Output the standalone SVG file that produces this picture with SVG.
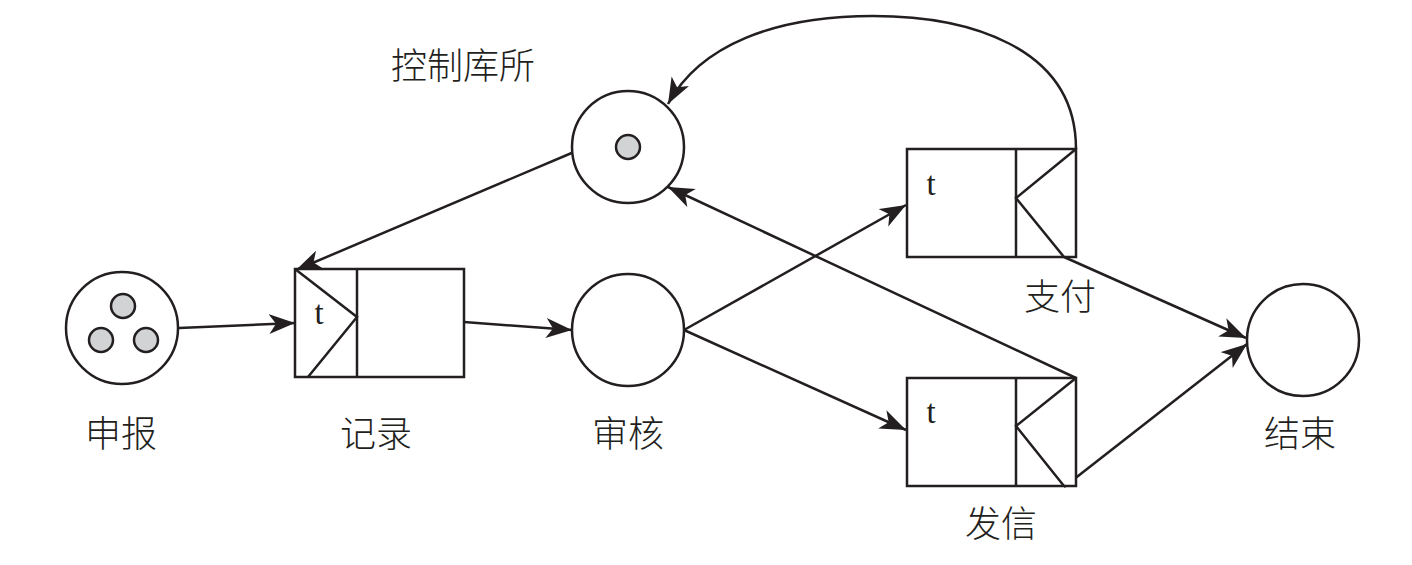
<svg xmlns="http://www.w3.org/2000/svg" width="1412" height="565" viewBox="0 0 1412 565">
<style>
.ln{fill:none;stroke:#231f20;stroke-width:2.5}
.pl{fill:#fff;stroke:#231f20;stroke-width:2.5}
.tk{fill:#d1d3d4;stroke:#231f20;stroke-width:2.5}
.lb{font-family:"Noto Sans CJK SC","Noto Sans",sans-serif;font-size:36px;fill:#231f20;text-anchor:middle;font-weight:300}
.t{font-family:"Liberation Serif",serif;font-size:33px;fill:#231f20;text-anchor:middle}
</style>
<defs>
<marker id="ah" markerUnits="userSpaceOnUse" markerWidth="28" markerHeight="22" refX="26" refY="10" orient="auto">
<path d="M0,0 L26,10 L0,20 L7,10 z" fill="#231f20"/>
</marker>
</defs>
<g id="connectors">
<line class="ln" x1="179" y1="328" x2="295" y2="323" marker-end="url(#ah)"/>
<line class="ln" x1="464" y1="322" x2="572" y2="330" marker-end="url(#ah)"/>
<line class="ln" x1="574" y1="152" x2="296" y2="270" marker-end="url(#ah)"/>
<line class="ln" x1="684" y1="330" x2="906" y2="205" marker-end="url(#ah)"/>
<line class="ln" x1="684" y1="330" x2="906" y2="430" marker-end="url(#ah)"/>
<line class="ln" x1="1076" y1="378" x2="668" y2="187" marker-end="url(#ah)"/>
<line class="ln" x1="1064" y1="257" x2="1246" y2="338" marker-end="url(#ah)"/>
<line class="ln" x1="1064" y1="487" x2="1247" y2="344" marker-end="url(#ah)"/>
<path class="ln" d="M1076,149 C1076,45 965,16 873,16 C775,16 700,45 668,104" marker-end="url(#ah)"/>
</g>
<g id="shenbao">
<circle class="pl" cx="122" cy="328" r="56"/>
<circle class="tk" cx="123" cy="306" r="12"/>
<circle class="tk" cx="101" cy="340" r="12"/>
<circle class="tk" cx="146" cy="340" r="12"/>
<text class="lb" x="121" y="447">申报</text>
</g>
<g id="jilu">
<rect class="pl" x="295" y="269" width="169" height="108"/>
<line class="ln" x1="357" y1="269" x2="357" y2="377"/>
<polyline class="ln" points="295,269 357,317 308,377"/>
<text class="t" x="319" y="324">t</text>
<text class="lb" x="376" y="447">记录</text>
</g>
<g id="shenhe">
<circle class="pl" cx="628" cy="330" r="56"/>
<text class="lb" x="628" y="447">审核</text>
</g>
<g id="kongzhi">
<circle class="pl" cx="628" cy="147" r="56"/>
<circle class="tk" cx="628" cy="147" r="12"/>
<text class="lb" x="463" y="79">控制库所</text>
</g>
<g id="zhifu">
<rect class="pl" x="907" y="149" width="169" height="108"/>
<line class="ln" x1="1016" y1="149" x2="1016" y2="257"/>
<polyline class="ln" points="1076,149 1016,198 1064,257"/>
<text class="t" x="931" y="195">t</text>
<text class="lb" x="1060" y="310">支付</text>
</g>
<g id="faxin">
<rect class="pl" x="907" y="378" width="169" height="108"/>
<line class="ln" x1="1016" y1="378" x2="1016" y2="486"/>
<polyline class="ln" points="1076,378 1016,426 1064,486"/>
<text class="t" x="931" y="423">t</text>
<text class="lb" x="1001" y="537">发信</text>
</g>
<g id="jieshu">
<circle class="pl" cx="1303" cy="340" r="56"/>
<text class="lb" x="1300" y="447">结束</text>
</g>
</svg>
